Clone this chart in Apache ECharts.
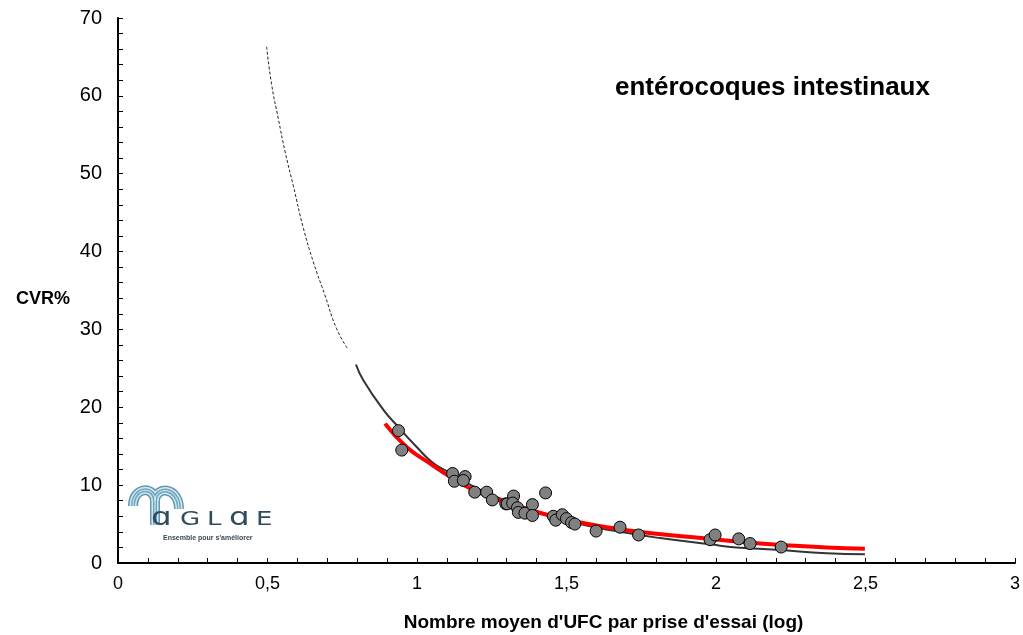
<!DOCTYPE html>
<html>
<head>
<meta charset="utf-8">
<script src="https://cdn.jsdelivr.net/npm/echarts@6/dist/echarts.min.js"></script>
<style>
  html, body { margin: 0; padding: 0; background: #fff; }
  #main { width: 1023px; height: 635px; }
</style>
</head>
<body>
<div id="main"></div>
<script>
// points mesurés (log UFC, CVR%)
const pointsX = [0.938, 0.949, 1.119, 1.125, 1.161, 1.155, 1.193, 1.233, 1.252, 1.297, 1.302, 1.323, 1.32, 1.336, 1.339, 1.361, 1.386, 1.386, 1.430, 1.456, 1.464, 1.486, 1.500, 1.517, 1.528, 1.599, 1.679, 1.741, 1.980, 1.997, 2.076, 2.114, 2.218];
const pointsY = [17.0, 14.5, 11.5, 10.5, 11.1, 10.6, 9.1, 9.1, 8.1, 7.6, 7.6, 8.6, 7.7, 7.1, 6.5, 6.4, 7.5, 6.1, 9.0, 6.0, 5.5, 6.2, 5.7, 5.2, 5.0, 4.1, 4.6, 3.6, 3.0, 3.6, 3.1, 2.5, 2.05];

// courbe noire, partie extrapolée (pointillés)
const dashX = [0.497, 0.514, 0.536, 0.559, 0.586, 0.620, 0.653, 0.692, 0.731, 0.770];
const dashY = [66.3, 61.4, 57.1, 52.8, 48.5, 43.0, 38.7, 34.4, 30.1, 27.4];

// courbe noire, partie pleine
const blackX = [0.796, 0.820, 0.887, 0.937, 0.999, 1.055, 1.105, 1.20, 1.30, 1.42, 1.545, 1.679, 1.813, 1.980, 2.069, 2.203, 2.370, 2.498];
const blackY = [25.5, 23.5, 19.7, 17.5, 14.9, 12.8, 11.7, 9.6, 8.0, 6.4, 5.0, 4.0, 3.2, 2.4, 2.0, 1.7, 1.25, 1.12];

// courbe rouge
const redX = [0.893, 0.965, 1.043, 1.110, 1.188, 1.289, 1.434, 1.534, 1.701, 1.924, 2.147, 2.370, 2.498];
const redY = [17.9, 14.9, 12.8, 11.1, 9.4, 7.9, 6.2, 5.3, 4.2, 3.3, 2.5, 2.0, 1.84];

const xTicks = ['0', '0,5', '1', '1,5', '2', '2,5', '3'];

const pairs = (xs, ys) => xs.map((x, i) => [x, ys[i]]);

const chart = echarts.init(document.getElementById('main'), null, { renderer: 'canvas' });

const sans = "'Liberation Sans', Arial, sans-serif";

// arches du logo (bandes rayées)
const arch = (stroke, w) => [
  { type: 'bezierCurve', shape: { x1: 2, y1: 19, cpx1: 2, cpy1: -1, cpx2: 24, cpy2: -1, x2: 24, y2: 14 }, style: { fill: 'none', stroke: stroke, lineWidth: w } },
  { type: 'line', shape: { x1: 24, y1: 14, x2: 24, y2: 38 }, style: { stroke: stroke, lineWidth: w } },
  { type: 'bezierCurve', shape: { x1: 24, y1: 14, cpx1: 24, cpy1: -1, cpx2: 48, cpy2: -1, x2: 48, y2: 22 }, style: { fill: 'none', stroke: stroke, lineWidth: w } }
];
const letter = (t, x, y, size) => ({
  type: 'text', x: x, y: y, scaleX: 1.3,
  style: { text: t, font: size + 'px "DejaVu Sans"', fill: '#2f4b5c' }
});

chart.setOption({
  animation: false,
  backgroundColor: '#fff',
  title: {
    text: 'entérocoques intestinaux',
    left: 610,
    top: 70,
    textStyle: { fontFamily: sans, fontSize: 26, fontWeight: 'bold', color: '#000' }
  },
  grid: { left: 118, right: 8, top: 18, bottom: 72, outerBoundsMode: 'none', containLabel: false },
  xAxis: {
    type: 'value', min: 0, max: 3, interval: 0.5,
    axisLine: { show: true, lineStyle: { color: '#000', width: 2 } },
    axisTick: { show: true, inside: true, length: 5, lineStyle: { color: '#000' } },
    minorTick: { show: true, splitNumber: 5, length: 5, lineStyle: { color: '#000' } },
    axisLabel: {
      margin: 12, color: '#000', fontFamily: sans, fontSize: 18,
      formatter: v => xTicks[Math.round(v * 2)]
    },
    splitLine: { show: false },
    minorSplitLine: { show: false },
    name: "Nombre moyen d'UFC par prise d'essai (log)",
    nameLocation: 'middle', nameGap: 50,
    nameTextStyle: { fontFamily: sans, fontSize: 19, fontWeight: 'bold', color: '#000', padding: [0, 0, 0, 74] }
  },
  yAxis: {
    type: 'value', min: 0, max: 70, interval: 10,
    axisLine: { show: true, lineStyle: { color: '#000', width: 2 } },
    axisTick: { show: true, inside: true, length: 5, lineStyle: { color: '#000' } },
    minorTick: { show: true, splitNumber: 5, length: 5, lineStyle: { color: '#000' } },
    axisLabel: { margin: 16, color: '#000', fontFamily: sans, fontSize: 20 },
    splitLine: { show: false },
    minorSplitLine: { show: false },
    name: 'CVR%', nameLocation: 'middle', nameRotate: 0, nameGap: 48,
    nameTextStyle: { fontFamily: sans, fontSize: 18, fontWeight: 'bold', color: '#000', verticalAlign: 'top' }
  },
  series: [
    {
      name: 'extrapolation', type: 'line', smooth: true, symbol: 'none',
      data: pairs(dashX, dashY),
      lineStyle: { color: '#222', width: 1, type: [3, 2] },
      z: 2
    },
    {
      name: 'modèle', type: 'line', smooth: true, symbol: 'none',
      data: pairs(blackX, blackY),
      lineStyle: { color: '#333', width: 2 },
      z: 2
    },
    {
      name: 'ajustement', type: 'line', smooth: true, symbol: 'none',
      data: pairs(redX, redY),
      lineStyle: { color: '#ff0000', width: 4 },
      z: 3
    },
    {
      name: 'points', type: 'scatter', symbol: 'circle', symbolSize: 12,
      data: pairs(pointsX, pointsY),
      itemStyle: { color: '#808080', borderColor: '#000', borderWidth: 1, opacity: 1 },
      z: 4
    }
  ],
  graphic: [
    // logo AGLAE
    {
      type: 'group', x: 131, y: 487,
      children: arch('#5f99b4', 10).concat(arch('#d3e6ef', 7), arch('#6ea6bf', 4), arch('#e4f0f5', 1))
    },
    letter('ɑ', 151, 506, 25),
    letter('G', 180, 510, 20),
    letter('L', 207, 510, 20),
    letter('ɑ', 229, 506, 25),
    letter('E', 256, 510, 20),
    { type: 'text', x: 163, y: 535, style: { text: "Ensemble pour s'améliorer", font: 'bold 7px "Liberation Sans"', fill: '#3a4a55' } }
  ]
});
</script>
</body>
</html>
